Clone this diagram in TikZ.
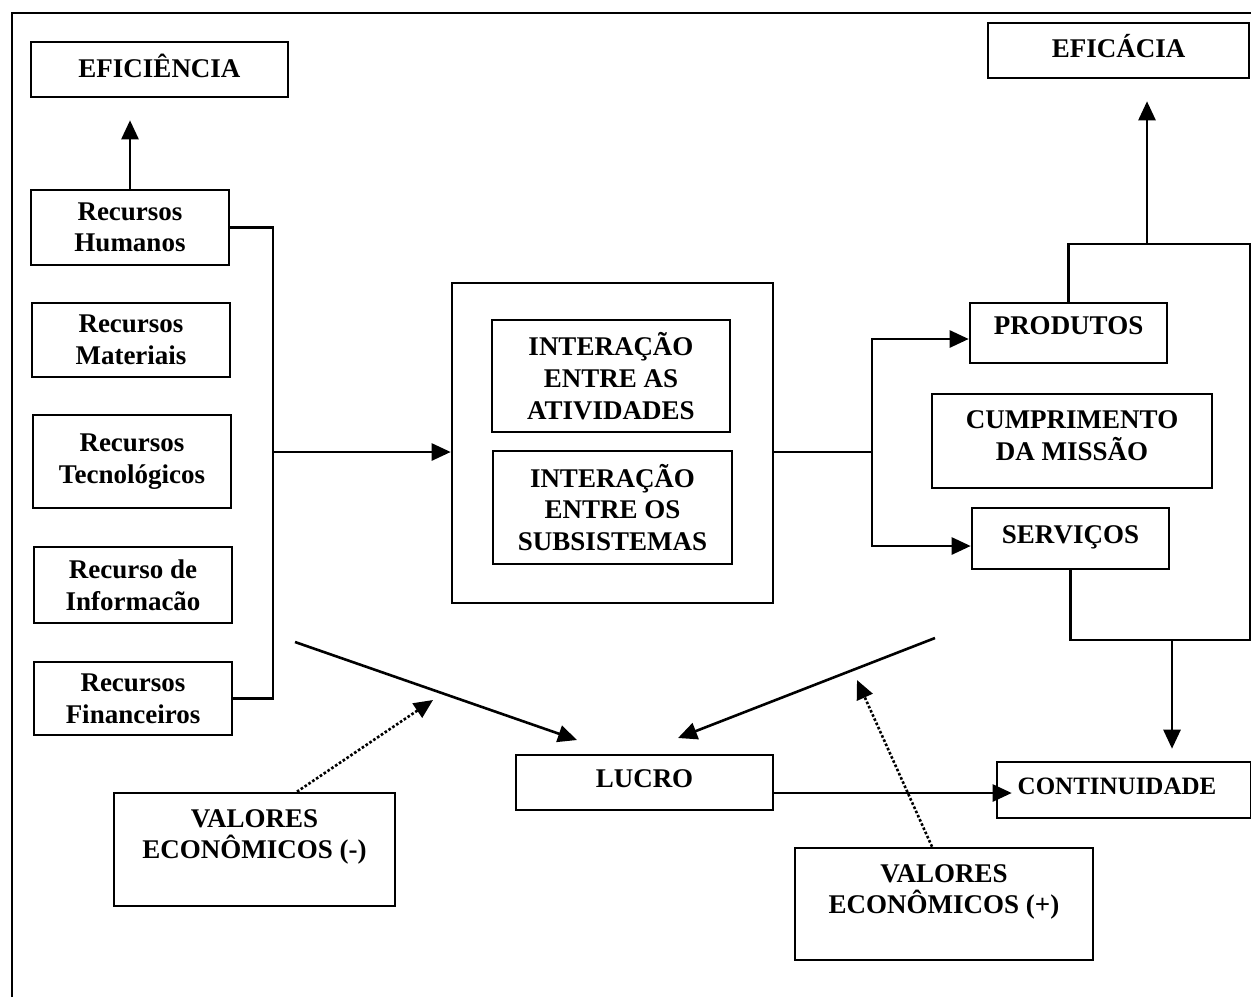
\documentclass[tikz,border=0pt]{standalone}
\usepackage{fontspec}
\setmainfont{Liberation Serif}
\usetikzlibrary{arrows.meta}

\begin{document}
\begin{tikzpicture}[x=0.5pt,y=-0.5pt,
  box/.style={draw, line width=1.3pt, inner sep=0pt, align=center,
    font=\bfseries\fontsize{13.5}{15.8}\selectfont},
  conn/.style={line width=1.3pt},
  arr/.style={conn, -{Triangle[length=9.5pt,width=8.5pt]}},
  dotarr/.style={line width=1.3pt, densely dotted, -{Triangle[length=9.5pt,width=8.5pt]}},
]
\useasboundingbox (0,0) rectangle (1251,997);

% page frame
\draw[line width=1pt] (12,997) -- (12,13) -- (1251,13);

% results
\node[box, minimum width=128.5pt, minimum height=27.5pt] (eficiencia) at (159.5,69.5)
  {EFICIÊNCIA\rule[-3.6pt]{0pt}{0pt}};
\node[box, minimum width=130.5pt, minimum height=27.5pt] (eficacia) at (1118.5,50.5)
  {EFICÁCIA\rule[-4.6pt]{0pt}{0pt}};

% resources
\node[box, minimum width=99pt, minimum height=37.5pt] (rh) at (130,227.5) {Recursos\\Humanos};
\node[box, minimum width=99pt, minimum height=37pt] (rm) at (131,340) {Recursos\\Materiais};
\node[box, minimum width=99pt, minimum height=46.5pt] (rt) at (132,461.5) {Recursos\\Tecnológicos};
\node[box, minimum width=99pt, minimum height=38pt] (ri) at (133,585) {Recurso de\\Informacão};
\node[box, minimum width=99pt, minimum height=36.5pt] (rf) at (133,698.5) {Recursos\\Financeiros};

% transformation
\node[box, minimum width=160.5pt, minimum height=160pt] (sys) at (612.5,443) {};
\node[box, minimum width=119pt, minimum height=56pt] (ia) at (611,376)
  {INTERAÇÃO\\ENTRE AS\\ATIVIDADES};
\node[box, minimum width=119.5pt, minimum height=56.5pt] (is) at (612.5,507.5)
  {INTERAÇÃO\\ENTRE OS\\SUBSISTEMAS};

% outputs
\node[box, minimum width=98.5pt, minimum height=30pt] (produtos) at (1068.5,333)
  {PRODUTOS\rule[-7pt]{0pt}{0pt}};
\node[box, minimum width=140pt, minimum height=47pt] (cumprimento) at (1072,441)
  {CUMPRIMENTO\\DA MISSÃO\rule[-5.5pt]{0pt}{0pt}};
\node[box, minimum width=98.5pt, minimum height=30.5pt] (servicos) at (1070.5,538.5)
  {SERVIÇOS\rule[-4pt]{0pt}{0pt}};

% profit and continuity
\node[box, minimum width=128.5pt, minimum height=27.5pt] (lucro) at (644.5,782.5)
  {LUCRO\rule[-3.5pt]{0pt}{0pt}};
\node[box, minimum width=127pt, minimum height=28pt, font=\bfseries\fontsize{12.5}{14}\selectfont]
  (continuidade) at (1124,790) {CONTINUIDADE\rule[-4pt]{0pt}{0pt}\hspace{7pt}};

% economic values
\node[box, minimum width=140.5pt, minimum height=56.5pt] (vem) at (254.5,849.5)
  {VALORES\\ECONÔMICOS (-)\rule[-15.5pt]{0pt}{0pt}};
\node[box, minimum width=149pt, minimum height=56pt] (vep) at (944,904)
  {VALORES\\ECONÔMICOS (+)\rule[-15pt]{0pt}{0pt}};

% connection points
\coordinate (busin) at (273,452);
\coordinate (split) at (872,452);
\coordinate (pin) at (872,339);
\coordinate (sin) at (872,546);
\coordinate (effup) at (1147,244);
\coordinate (rtop) at (1250,244);
\coordinate (rbot) at (1250,640);
\coordinate (contin) at (1172,640);
\coordinate (minusstart) at (295,642);
\coordinate (minusend) at (577,740);
\coordinate (plusstart) at (935,638);
\coordinate (plusend) at (678,738);
\coordinate (vemtip) at (433,700);
\coordinate (veptip) at (857,680);

% resources to efficiency
\draw[arr, shorten >=11pt] (rh.north) -- (eficiencia.south -| rh.north);

% resource bus into the transformation
\draw[conn] (rh.east) -- (rh.east -| busin) -- (rf.east -| busin) -- (rf.east);
\draw[arr] (busin) -- (busin -| sys.west);

% transformation to products and services
\draw[conn] (sys.east |- split) -- (split);
\draw[arr] (split) -- (pin) -- (pin -| produtos.west);
\draw[arr] (split) -- (sin) -- (sin -| servicos.west);

% outputs loop, efficacy and continuity
\draw[conn] (produtos.north) -- (produtos.north |- rtop) -- (rtop) -- (rbot)
  -- (servicos.south |- rbot) -- (servicos.south);
\draw[arr, shorten >=11pt] (effup) -- (effup |- eficacia.south);
\draw[arr, shorten >=6pt] (contin) -- (contin |- continuidade.north);

% profit
\draw[arr] (minusstart) -- (minusend);
\draw[arr] (plusstart) -- (plusend);
\draw[arr, shorten >=-8pt] (lucro.east |- 0,793) -- (continuidade.west |- 0,793);

% economic values influence
\draw[dotarr] (297,0 |- vem.north) -- (vemtip);
\draw[dotarr] (932,0 |- vep.north) -- (veptip);
\end{tikzpicture}
\end{document}
